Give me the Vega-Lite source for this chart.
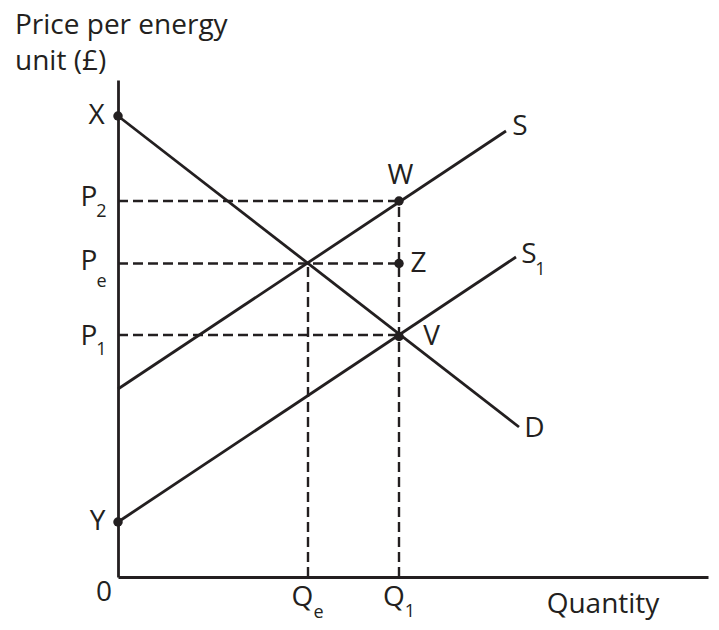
{
  "$schema": "https://vega.github.io/schema/vega-lite/v6.json",
  "width": 590,
  "height": 497,
  "autosize": {"type": "none"},
  "padding": {"left": 118, "top": 80, "right": 11, "bottom": 53},
  "background": "white",
  "config": {
    "view": {"stroke": null},
    "axis": {"grid": false, "ticks": false, "labels": false, "domainColor": "#231f20", "domainWidth": 2.8, "title": null},
    "text": {"font": "Open Sans", "color": "#231f20"}
  },
  "datasets": {
    "solid": [
      {"name": "S", "x": 0, "y": 188, "x2": 388, "y2": 446},
      {"name": "S1", "x": 0, "y": 55, "x2": 398, "y2": 320},
      {"name": "D", "x": 0, "y": 461, "x2": 401, "y2": 150}
    ],
    "dashed": [
      {"name": "P2", "x": 0, "y": 376, "x2": 281, "y2": 376},
      {"name": "Pe", "x": 0, "y": 313.5, "x2": 281, "y2": 313.5},
      {"name": "P1", "x": 0, "y": 242, "x2": 281, "y2": 242},
      {"name": "Q1", "x": 281, "y": 0, "x2": 281, "y2": 376},
      {"name": "Qe", "x": 190, "y": 0, "x2": 190, "y2": 313.5}
    ],
    "points": [
      {"name": "X", "x": 0, "y": 461},
      {"name": "Y", "x": 0, "y": 55},
      {"name": "W", "x": 281, "y": 376},
      {"name": "Z", "x": 281, "y": 313.5},
      {"name": "V", "x": 281, "y": 240.5}
    ],
    "labels": [
      {"text": "X", "x": -21.5, "y": 461},
      {"text": "P", "x": -29, "y": 379},
      {"text": "P", "x": -29, "y": 315},
      {"text": "P", "x": -29, "y": 240},
      {"text": "Y", "x": -20.5, "y": 55},
      {"text": "0", "x": -14, "y": -16},
      {"text": "Q", "x": 184.5, "y": -21},
      {"text": "Q", "x": 276, "y": -21},
      {"text": "W", "x": 282.5, "y": 401},
      {"text": "Z", "x": 300.5, "y": 313},
      {"text": "V", "x": 313.5, "y": 240},
      {"text": "S", "x": 402, "y": 450},
      {"text": "S", "x": 411, "y": 322},
      {"text": "D", "x": 416.5, "y": 148},
      {"text": "Quantity", "x": 485, "y": -28}
    ],
    "subs": [
      {"text": "2", "x": -16.5, "y": 365},
      {"text": "e", "x": -16.5, "y": 295},
      {"text": "1", "x": -16.5, "y": 227},
      {"text": "e", "x": 200.5, "y": -36},
      {"text": "1", "x": 292, "y": -34.5},
      {"text": "1", "x": 422.5, "y": 307}
    ],
    "title": [
      {"text": "Price per energy", "x": -103, "y": 543},
      {"text": "unit (£)", "x": -103, "y": 507}
    ]
  },
  "encoding": {
    "x": {"field": "x", "type": "quantitative", "scale": {"domain": [0, 590], "nice": false}, "title": null},
    "y": {"field": "y", "type": "quantitative", "scale": {"domain": [0, 497], "nice": false}, "title": null}
  },
  "layer": [
    {
      "data": {"name": "dashed"},
      "mark": {"type": "rule", "color": "#231f20", "strokeWidth": 2.4, "strokeDash": [10, 5]},
      "encoding": {"x2": {"field": "x2"}, "y2": {"field": "y2"}}
    },
    {
      "data": {"name": "solid"},
      "mark": {"type": "rule", "color": "#231f20", "strokeWidth": 2.8},
      "encoding": {"x2": {"field": "x2"}, "y2": {"field": "y2"}}
    },
    {
      "data": {"name": "points"},
      "mark": {"type": "circle", "color": "#231f20", "size": 90, "opacity": 1}
    },
    {
      "data": {"name": "labels"},
      "mark": {"type": "text", "fontSize": 28, "align": "center", "baseline": "middle"},
      "encoding": {"text": {"field": "text"}}
    },
    {
      "data": {"name": "subs"},
      "mark": {"type": "text", "fontSize": 18, "align": "center", "baseline": "middle"},
      "encoding": {"text": {"field": "text"}}
    },
    {
      "data": {"name": "title"},
      "mark": {"type": "text", "fontSize": 28, "align": "left", "baseline": "alphabetic"},
      "encoding": {"text": {"field": "text"}}
    }
  ]
}
